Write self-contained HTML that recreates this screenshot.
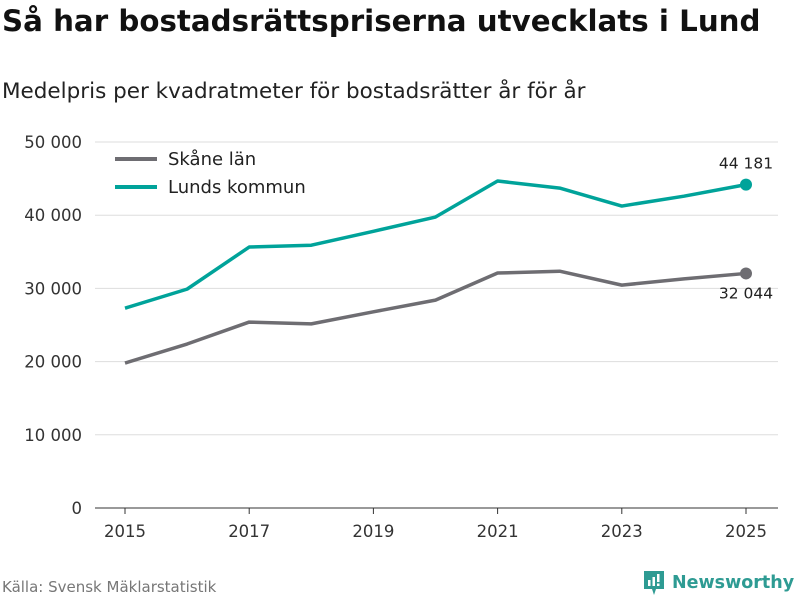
<!DOCTYPE html>
<html><head><meta charset="utf-8"><style>
body{margin:0;width:800px;height:600px;background:#fff;font-family:"DejaVu Sans","Liberation Sans",sans-serif;overflow:hidden;position:relative}
#title{position:absolute;left:2px;top:4px;font-size:29.3px;font-weight:bold;color:#111;letter-spacing:0px}
#sub{position:absolute;left:2px;top:79px;font-size:21.5px;color:#222}
#src{position:absolute;left:2px;top:578px;font-size:15px;color:#777}
#logo{position:absolute;left:642px;top:569px;display:flex;align-items:center;gap:6px;color:#2e9b93;font-size:17.5px;font-weight:bold}
svg text{font-family:"DejaVu Sans","Liberation Sans",sans-serif}
</style></head><body>
<div id="title">Så har bostadsrättspriserna utvecklats i Lund</div>
<div id="sub">Medelpris per kvadratmeter för bostadsrätter år för år</div>
<svg id="chart" width="800" height="600" style="position:absolute;left:0;top:0"></svg>
<div id="src">Källa: Svensk Mäklarstatistik</div>
<div id="logo"><svg width="24" height="28" viewBox="0 0 24 28"><path d="M2 2h20v18H14l-2 6-2-6H2z" fill="#2e9b93"/><rect x="6" y="11" width="2.5" height="6" fill="#fff"/><rect x="10.5" y="8" width="2.5" height="9" fill="#fff"/><rect x="15" y="5" width="2.5" height="8" fill="#fff"/><rect x="15" y="14.5" width="2.5" height="2.5" fill="#fff"/></svg><span>Newsworthy</span></div>
<script>
const years=[2015,2016,2017,2018,2019,2020,2021,2022,2023,2024,2025];
const skane=[19800,22400,25400,25150,26800,28400,32100,32350,30450,31300,32044];
const lund=[27300,29900,35650,35900,37800,39750,44670,43700,41250,42600,44181];
const yTicks=[0,10000,20000,30000,40000,50000];
const xTicks=[2015,2017,2019,2021,2023,2025];
const svg=document.getElementById('chart');const NS='http://www.w3.org/2000/svg';
const x=v=>125+(v-2015)*62.1;const y=v=>508-v*0.00732;
const fmt=v=>String(Math.round(v)).replace(/\B(?=(\d{3})+(?!\d))/g,' ');
function mk(t,a){const e=document.createElementNS(NS,t);for(const k in a)e.setAttribute(k,a[k]);svg.appendChild(e);return e;}
yTicks.forEach(t=>{
const l=mk('line',{x1:95,x2:778,y1:y(t),y2:y(t),stroke:t?'#ddd':'#333','stroke-width':1});


const tx=mk('text',{x:82,y:y(t)+6,'text-anchor':'end','font-size':16.5,fill:'#333'});tx.textContent=fmt(t);


});
xTicks.forEach(t=>{
const l=mk('line',{x1:x(t),x2:x(t),y1:508,y2:514,stroke:'#333'});


const tx=mk('text',{x:x(t),y:537,'text-anchor':'middle','font-size':16.5,fill:'#333'});tx.textContent=t;


});
function series(vals,color,name,labelDy){
const p=mk('polyline',{points:vals.map((v,i)=>x(years[i])+','+y(v)).join(' '),fill:'none',stroke:color,'stroke-width':3.5,'stroke-linejoin':'round'});


const last=vals.length-1;
const c=mk('circle',{cx:x(years[last]),cy:y(vals[last]),r:6,fill:color});


const t=mk('text',{x:x(years[last]),y:y(vals[last])+labelDy,'text-anchor':'middle','font-size':15.5,fill:'#222'});t.textContent=fmt(vals[last]);


}
series(skane,'#6e6d72','skane',25);
series(lund,'#00a39a','lund',-16);
[['Skåne län','#6e6d72',159],['Lunds kommun','#00a39a',187]].forEach(([n,c,yy])=>{
const l=mk('line',{x1:115,x2:157,y1:yy,y2:yy,stroke:c,'stroke-width':4});


const t=mk('text',{x:168,y:yy+6,'font-size':18,fill:'#222'});t.textContent=n;


});
</script>
</body></html>
